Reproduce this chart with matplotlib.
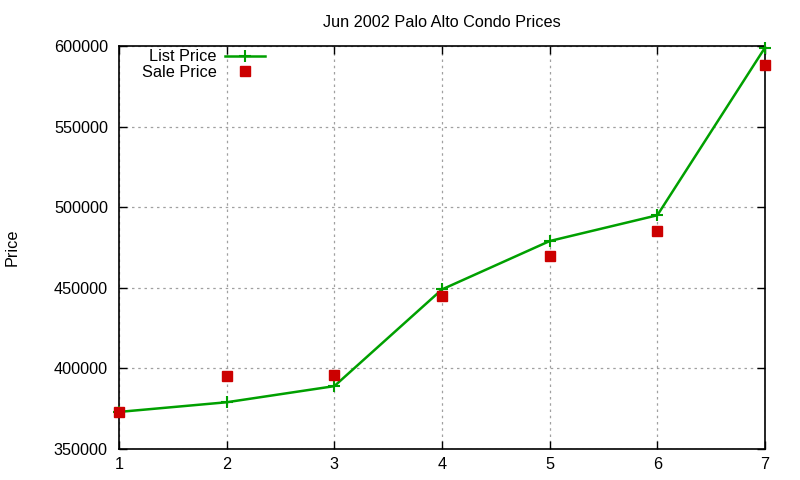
import matplotlib
matplotlib.use("Agg")
import matplotlib.pyplot as plt
from matplotlib.ticker import MultipleLocator

# data
months = [1, 2, 3, 4, 5, 6, 7]
list_price = [373000, 379000, 389000, 449000, 479000, 495000, 599000]
sale_price = [373000, 395000, 396000, 445000, 470000, 485000, 588000]

GREEN = "#00a000"
RED = "#cc0000"

plt.rcParams.update({
    "font.family": ["Liberation Sans", "DejaVu Sans"],
    "font.size": 11.7,
})

fig = plt.figure(figsize=(8, 4.8), dpi=100)
ax = fig.add_axes([119 / 800, 1 - 449 / 480, (765 - 119) / 800, (449 - 46) / 480])

ax.plot(months, list_price, color=GREEN, linewidth=1.8, marker="+",
        markersize=8, markeredgewidth=1.5, label="List Price", zorder=3,
        clip_on=False)
ax.plot(months, sale_price, linestyle="none", color=RED, marker="s",
        markersize=6.5, label="Sale Price", zorder=4, clip_on=False)

ax.set_xlim(1, 7)
ax.set_ylim(350000, 600000)
ax.xaxis.set_major_locator(MultipleLocator(1))
ax.yaxis.set_major_locator(MultipleLocator(50000))
ax.ticklabel_format(axis="y", style="plain", useOffset=False)

ax.grid(True, color="#a0a0a0", linestyle=(0, (2, 3)), linewidth=0.9)
ax.tick_params(direction="in", top=True, right=True, length=6, width=1,
               labelsize=11.7, colors="black")
ax.tick_params(axis="y", pad=8)
ax.tick_params(axis="x", pad=6)
for sp in ax.spines.values():
    sp.set_linewidth(1.2)

ax.set_title("Jun 2002 Palo Alto Condo Prices", fontsize=11.7, pad=14)
fig.text(12 / 800, 1 - 247 / 480, "Price", rotation=90, ha="center",
         va="center", fontsize=11.7)

ax.legend(loc="upper left", bbox_to_anchor=(0.020, 1.016), frameon=False,
          markerfirst=False, handlelength=2.5, handletextpad=0.5,
          labelspacing=0.05, fontsize=11.7, borderaxespad=0.2)

fig.savefig("out.png", dpi=100)
